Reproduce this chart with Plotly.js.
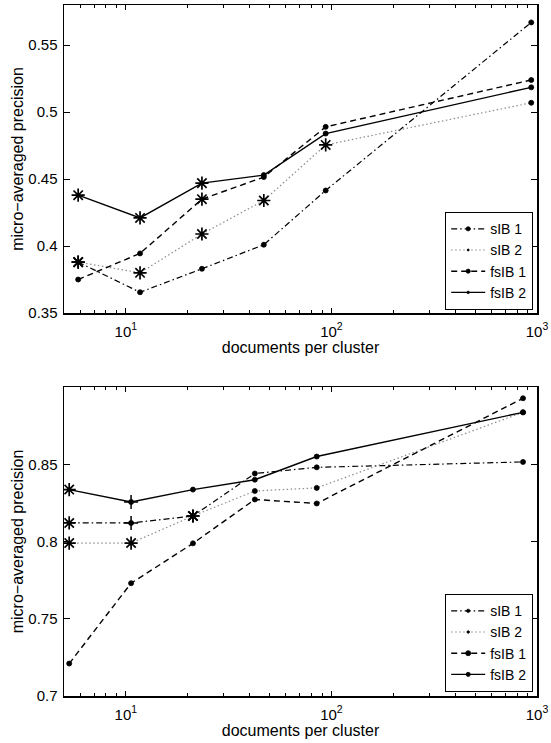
<!DOCTYPE html>
<html><head><meta charset="utf-8">
<script src="https://cdn.plot.ly/plotly-3.0.1.min.js"></script>
<style>html,body{margin:0;padding:0;background:#fff}#chart{width:551px;height:743px}</style>
</head><body><div id="chart"></div><script>
// ---- data ----
const seriesNames = ['sIB 1', 'sIB 2', 'fsIB 1', 'fsIB 2'];
const xTickVals = [10, 100, 1000];
const xTickText = ['10<sup>1</sup>', '10<sup>2</sup>', '10<sup>3</sup>'];
const xMinorVals = [6, 7, 8, 9, 20, 30, 40, 50, 60, 70, 80, 90, 200, 300, 400, 500, 600, 700, 800, 900];

// top panel
const topX = [5.86, 11.72, 23.44, 46.88, 93.75, 937.5];
const topSIB1 = [0.388, 0.3655, 0.383, 0.401, 0.4415, 0.567];
const topSIB2 = [0.388, 0.380, 0.409, 0.434, 0.4755, 0.507];
const topFSIB1 = [0.375, 0.3945, 0.435, 0.4515, 0.489, 0.524];
const topFSIB2 = [0.438, 0.421, 0.447, 0.453, 0.484, 0.5185];
// marker kind per point: s = star, d = dot, p = plus
const topMarksSIB1 = ['s', 'd', 'd', 'd', 'd', 'd'];
const topMarksSIB2 = ['s', 's', 's', 's', 's', 'd'];
const topMarksFSIB1 = ['d', 'd', 's', 'd', 'd', 'd'];
const topMarksFSIB2 = ['s', 's', 's', 'd', 'd', 'd'];
const topYTicks = [0.35, 0.4, 0.45, 0.5, 0.55];
const topYText = ['0.35', '0.4', '0.45', '0.5', '0.55'];

// bottom panel
const botX = [5.3, 10.6, 21.2, 42.4, 84.8, 855];
const botSIB1 = [0.812, 0.812, 0.8165, 0.844, 0.848, 0.8515];
const botSIB2 = [0.799, 0.799, 0.8165, 0.8327, 0.8347, 0.8836];
const botFSIB1 = [0.721, 0.773, 0.7988, 0.8272, 0.8246, 0.8927];
const botFSIB2 = [0.8336, 0.8256, 0.8336, 0.840, 0.855, 0.8836];
const botMarksSIB1 = ['s', 'p', 's', 'd', 'd', 'd'];
const botMarksSIB2 = ['s', 's', 's', 'd', 'd', 'd'];
const botMarksFSIB1 = ['d', 'd', 'd', 'd', 'd', 'd'];
const botMarksFSIB2 = ['s', 'p', 'd', 'd', 'd', 'd'];
const botYTicks = [0.7, 0.75, 0.8, 0.85];
const botYText = ['0.7', '0.75', '0.8', '0.85'];

// ---- styling ----
const FONT = 'Liberation Sans, Arial, Helvetica, sans-serif';
const lineStyles = [
  {color: '#000', width: 1.2, dash: '6px,3px,1.5px,3px'},
  {color: '#8a8a8a', width: 1.2, dash: '1.5px,2.5px'},
  {color: '#000', width: 1.4, dash: '6px,4px'},
  {color: '#000', width: 1.4, dash: 'solid'}
];

function panelTraces(x, ys, marks, xa, ya, legendId) {
  const out = [];
  ys.forEach((y, i) => {
    const mk = marks[i];
    out.push({
      type: 'scatter', mode: 'lines+markers', x: x, y: y, name: seriesNames[i],
      xaxis: xa, yaxis: ya, legend: legendId,
      line: lineStyles[i],
      marker: {symbol: 'circle', color: '#000', opacity: 1, size: mk.map(m => m === 's' ? 0 : 5),
               line: {width: 0.8, color: '#000'}},
      hoverinfo: 'x+y'
    });
    const sx = [], sy = [], px = [], py = [];
    mk.forEach((m, j) => {
      if (m === 's') { sx.push(x[j]); sy.push(y[j]); }
      if (m === 'p') { px.push(x[j]); py.push(y[j]); }
    });
    if (sx.length) out.push({
      type: 'scatter', mode: 'markers', x: sx, y: sy, xaxis: xa, yaxis: ya,
      showlegend: false, hoverinfo: 'x+y',
      marker: {symbol: 'asterisk-open', size: 11, color: '#000', line: {color: '#000', width: 1.7}}
    });
    if (px.length) out.push({
      type: 'scatter', mode: 'markers', x: px, y: py, xaxis: xa, yaxis: ya,
      showlegend: false, hoverinfo: 'x+y',
      marker: {symbol: 'cross-thin-open', size: 10, color: '#000', line: {color: '#000', width: 1.5}}
    });
  });
  return out;
}

const data = [].concat(
  panelTraces(topX, [topSIB1, topSIB2, topFSIB1, topFSIB2],
    [topMarksSIB1, topMarksSIB2, topMarksFSIB1, topMarksFSIB2], 'x', 'y', 'legend'),
  panelTraces(botX, [botSIB1, botSIB2, botFSIB1, botFSIB2],
    [botMarksSIB1, botMarksSIB2, botMarksFSIB1, botMarksFSIB2], 'x2', 'y2', 'legend2')
);

const W = 551, H = 743;
function xAxis(anchor) {
  return {
    type: 'log', range: [Math.log10(5), 3], anchor: anchor,
    domain: [64 / W, 537 / W],
    tickvals: xTickVals, ticktext: xTickText,
    ticks: 'inside', ticklen: 5, tickwidth: 1, tickcolor: '#000',
    minor: {tickvals: xMinorVals, ticks: 'inside', ticklen: 3, tickwidth: 1, tickcolor: '#000'},
    showline: true, linecolor: '#000', linewidth: 1.5, mirror: 'allticks',
    showgrid: false, zeroline: false,
    tickfont: {family: FONT, size: 15, color: '#000'},
    ticklabelstandoff: 4,
    title: {text: 'documents per cluster', font: {family: FONT, size: 16, color: '#000'}, standoff: 0}
  };
}
function yAxis(anchor, range, tv, tt, y0, y1) {
  return {
    range: range, anchor: anchor, domain: [1 - y1 / H, 1 - y0 / H],
    tickvals: tv, ticktext: tt,
    ticks: 'inside', ticklen: 6, tickwidth: 1, tickcolor: '#000',
    showline: true, linecolor: '#000', linewidth: 1.5, mirror: 'allticks',
    showgrid: false, zeroline: false,
    tickfont: {family: FONT, size: 15, color: '#000'},
    ticklabelstandoff: 2,
    title: {text: 'micro\u2212averaged precision', font: {family: FONT, size: 16, color: '#000'}, standoff: 0}
  };
}
function legendCfg(yBottom) {
  return {
    x: 533 / W, xanchor: 'right', y: 1 - yBottom / H, yanchor: 'bottom',
    bgcolor: '#fff', bordercolor: '#000', borderwidth: 1.2,
    font: {family: FONT, size: 14, color: '#000'},
    tracegroupgap: 0, itemwidth: 34, entrywidth: 96, entrywidthmode: 'pixels'
  };
}

const layout = {
  width: W, height: H,
  margin: {l: 0, r: 0, t: 0, b: 0},
  paper_bgcolor: '#fff', plot_bgcolor: '#fff',
  showlegend: true,
  xaxis: xAxis('y'),
  yaxis: yAxis('x', [0.35, 0.58], topYTicks, topYText, 5, 313),
  xaxis2: xAxis('y2'),
  yaxis2: yAxis('x2', [0.7, 0.9], botYTicks, botYText, 387, 696),
  legend: legendCfg(310),
  legend2: legendCfg(692)
};

Plotly.newPlot('chart', data, layout, {displayModeBar: false, staticPlot: true});
</script></body></html>
